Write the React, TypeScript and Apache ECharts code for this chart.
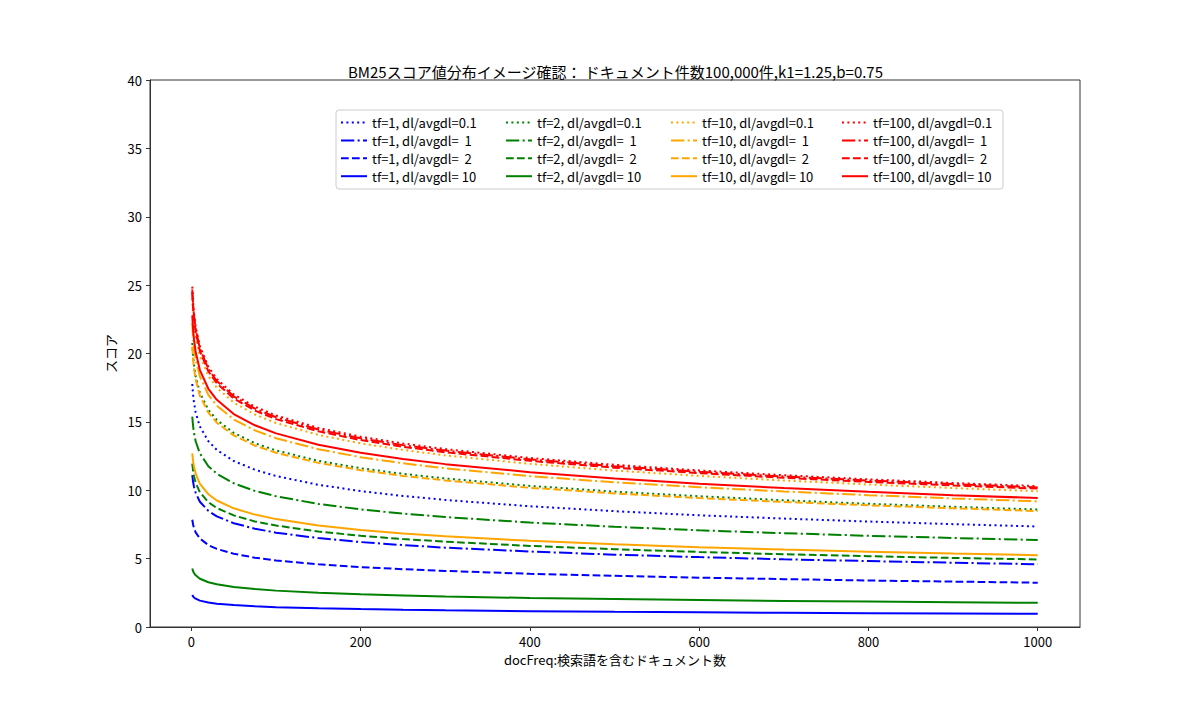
import React, { useEffect, useRef } from 'react';
import * as echarts from 'echarts';

// docFreq sample points (x axis)
const docFreq = [1, 2, 3, 5, 10, 20, 30, 50, 75, 100, 150, 200, 250, 300, 400, 500, 600, 700, 800, 900, 1000];

// scores, one list per tf / dl-avgdl pair
const tf1_01 = [17.77, 16.95, 16.42, 15.69, 14.66, 13.59, 12.95, 12.14, 11.50, 11.04, 10.40, 9.94, 9.58, 9.29, 8.83, 8.47, 8.17, 7.93, 7.71, 7.52, 7.35];
const tf1_1 = [11.11, 10.60, 10.26, 9.81, 9.16, 8.49, 8.09, 7.59, 7.19, 6.90, 6.50, 6.21, 5.99, 5.80, 5.52, 5.29, 5.11, 4.95, 4.82, 4.70, 4.59];
const tf1_2 = [7.84, 7.48, 7.24, 6.92, 6.47, 5.99, 5.71, 5.36, 5.07, 4.87, 4.59, 4.38, 4.23, 4.10, 3.89, 3.74, 3.61, 3.50, 3.40, 3.32, 3.24];
const tf1_10 = [2.34, 2.23, 2.16, 2.07, 1.93, 1.79, 1.70, 1.60, 1.51, 1.45, 1.37, 1.31, 1.26, 1.22, 1.16, 1.11, 1.08, 1.04, 1.01, 0.99, 0.97];

const tf2_01 = [20.77, 19.82, 19.19, 18.34, 17.13, 15.88, 15.14, 14.20, 13.44, 12.91, 12.15, 11.61, 11.20, 10.86, 10.32, 9.90, 9.56, 9.27, 9.01, 8.79, 8.59];
const tf2_1 = [15.38, 14.67, 14.21, 13.58, 12.69, 11.76, 11.21, 10.51, 9.95, 9.56, 9.00, 8.60, 8.29, 8.04, 7.64, 7.33, 7.07, 6.86, 6.67, 6.51, 6.36];
const tf2_2 = [11.94, 11.39, 11.03, 10.54, 9.85, 9.13, 8.70, 8.16, 7.72, 7.42, 6.98, 6.67, 6.43, 6.24, 5.93, 5.69, 5.49, 5.32, 5.18, 5.05, 4.94];
const tf2_10 = [4.28, 4.08, 3.95, 3.78, 3.53, 3.27, 3.12, 2.92, 2.77, 2.66, 2.50, 2.39, 2.31, 2.23, 2.12, 2.04, 1.97, 1.91, 1.86, 1.81, 1.77];

const tf10_01 = [24.02, 22.91, 22.18, 21.21, 19.81, 18.36, 17.50, 16.41, 15.54, 14.92, 14.05, 13.43, 12.95, 12.55, 11.93, 11.44, 11.05, 10.71, 10.42, 10.16, 9.93];
const tf10_1 = [22.22, 21.19, 20.52, 19.62, 18.32, 16.98, 16.19, 15.18, 14.38, 13.80, 13.00, 12.42, 11.97, 11.61, 11.03, 10.58, 10.22, 9.91, 9.64, 9.40, 9.19];
const tf10_2 = [20.51, 19.56, 18.94, 18.11, 16.91, 15.68, 14.94, 14.01, 13.27, 12.74, 12.00, 11.47, 11.05, 10.72, 10.18, 9.77, 9.43, 9.15, 8.90, 8.68, 8.48];
const tf10_10 = [12.69, 12.11, 11.73, 11.21, 10.47, 9.71, 9.25, 8.68, 8.22, 7.89, 7.43, 7.10, 6.84, 6.63, 6.30, 6.05, 5.84, 5.66, 5.51, 5.37, 5.25];

const tf100_01 = [24.89, 23.75, 22.99, 21.98, 20.53, 19.03, 18.14, 17.01, 16.11, 15.47, 14.56, 13.92, 13.42, 13.01, 12.36, 11.86, 11.45, 11.10, 10.80, 10.53, 10.30];
const tf100_1 = [24.68, 23.55, 22.80, 21.80, 20.36, 18.87, 17.99, 16.87, 15.97, 15.34, 14.44, 13.80, 13.30, 12.90, 12.26, 11.76, 11.35, 11.01, 10.71, 10.45, 10.21];
const tf100_2 = [24.46, 23.33, 22.59, 21.60, 20.17, 18.70, 17.82, 16.71, 15.83, 15.20, 14.31, 13.67, 13.18, 12.78, 12.15, 11.65, 11.25, 10.91, 10.61, 10.35, 10.12];
const tf100_10 = [22.79, 21.74, 21.05, 20.12, 18.79, 17.42, 16.61, 15.57, 14.75, 14.16, 13.33, 12.74, 12.28, 11.91, 11.32, 10.86, 10.48, 10.16, 9.89, 9.64, 9.43];

const tfLabels = ['tf=1', 'tf=2', 'tf=10', 'tf=100'];
const dlLabels = ['dl/avgdl=0.1', 'dl/avgdl=  1', 'dl/avgdl=  2', 'dl/avgdl= 10'];
const colors = ['#0000ff', '#008000', '#ffa500', '#ff0000'];
const scores = [
  [tf1_01, tf1_1, tf1_2, tf1_10],
  [tf2_01, tf2_1, tf2_2, tf2_10],
  [tf10_01, tf10_1, tf10_2, tf10_10],
  [tf100_01, tf100_1, tf100_2, tf100_10],
];

const xTicks = [0, 200, 400, 600, 800, 1000];

// matplotlib-like dash patterns at 2px line width
const dashes: any[] = [[2, 3.4], [13.3, 3.3, 2.1, 3.3], [7.7, 3.3], 'solid'];

const FONT = "'Noto Sans CJK JP', 'Noto Sans', sans-serif";
const AXIS = '#333';
const legendLeft = [340, 505, 670, 841];

export default function App() {
  const chartRef = useRef<HTMLDivElement>(null);

  useEffect(() => {
    document.body.style.margin = '0';
    if (!chartRef.current) return;
    const chart = echarts.init(chartRef.current, undefined, { renderer: 'svg' });

    const series: any[] = [];
    scores.forEach((group, t) => {
      group.forEach((vals, d) => {
        series.push({
          name: `${tfLabels[t]}, ${dlLabels[d]}`,
          type: 'line',
          data: docFreq.map((x, i) => [x, vals[i]]),
          showSymbol: false,
          symbol: 'none',
          lineStyle: { color: colors[t], width: 2, type: dashes[d], cap: 'butt' },
          itemStyle: { color: colors[t] },
          z: 2 + t,
        });
      });
    });

    const legends = tfLabels.map((tf, t) => ({
      orient: 'vertical',
      left: legendLeft[t],
      top: 116,
      padding: 0,
      itemWidth: 26,
      itemHeight: 14,
      itemGap: 4.9,
      selectedMode: false,
      // hide the marker that line series put in the middle of the legend line
      itemStyle: { color: 'rgba(0,0,0,0)', opacity: 0, borderWidth: 0 },
      textStyle: { fontFamily: FONT, fontSize: 13, color: '#000' },
      data: dlLabels.map((dl) => `${tf}, ${dl}`),
    }));

    chart.setOption({
      animation: false,
      backgroundColor: '#fff',
      title: {
        text: 'BM25スコア値分布イメージ確認： ドキュメント件数100,000件,k1=1.25,b=0.75',
        left: 348,
        top: 64,
        padding: 0,
        textStyle: { fontFamily: FONT, fontSize: 15, fontWeight: 'normal', color: '#000' },
      },
      legend: legends,
      graphic: [
        {
          type: 'rect',
          shape: { x: 336, y: 110, width: 667, height: 79, r: 3 },
          style: { fill: 'rgba(255,255,255,0.8)', stroke: '#cccccc', lineWidth: 1 },
          z: 1,
        },
      ],
      grid: {
        left: 150,
        right: 120,
        top: 80,
        bottom: 78,
        show: true,
        borderColor: AXIS,
        borderWidth: 1,
        backgroundColor: 'transparent',
      },
      xAxis: {
        type: 'value',
        min: -48.95,
        max: 1049.95,
        name: 'docFreq:検索語を含むドキュメント数',
        nameLocation: 'middle',
        nameGap: 26,
        nameTextStyle: { fontFamily: FONT, fontSize: 13, color: '#000' },
        axisLine: { show: true, onZero: false, lineStyle: { color: AXIS, width: 1 } },
        axisTick: { show: true, length: 4, customValues: xTicks, lineStyle: { color: AXIS } },
        axisLabel: {
          customValues: xTicks,
          margin: 8,
          fontFamily: FONT,
          fontSize: 13,
          color: '#000',
          formatter: (v: number) => String(v),
        },
        splitLine: { show: false },
      },
      yAxis: {
        type: 'value',
        min: 0,
        max: 40,
        interval: 5,
        name: 'スコア',
        nameLocation: 'middle',
        nameRotate: 90,
        nameGap: 25,
        nameTextStyle: { fontFamily: FONT, fontSize: 13, color: '#000' },
        axisLine: { show: true, onZero: false, lineStyle: { color: AXIS, width: 1 } },
        axisTick: { show: true, length: 4, lineStyle: { color: AXIS } },
        axisLabel: { margin: 8, fontFamily: FONT, fontSize: 13, color: '#000' },
        splitLine: { show: false },
      },
      series,
    });

    return () => chart.dispose();
  }, []);

  return <div ref={chartRef} style={{ width: 1200, height: 705 }} />;
}
